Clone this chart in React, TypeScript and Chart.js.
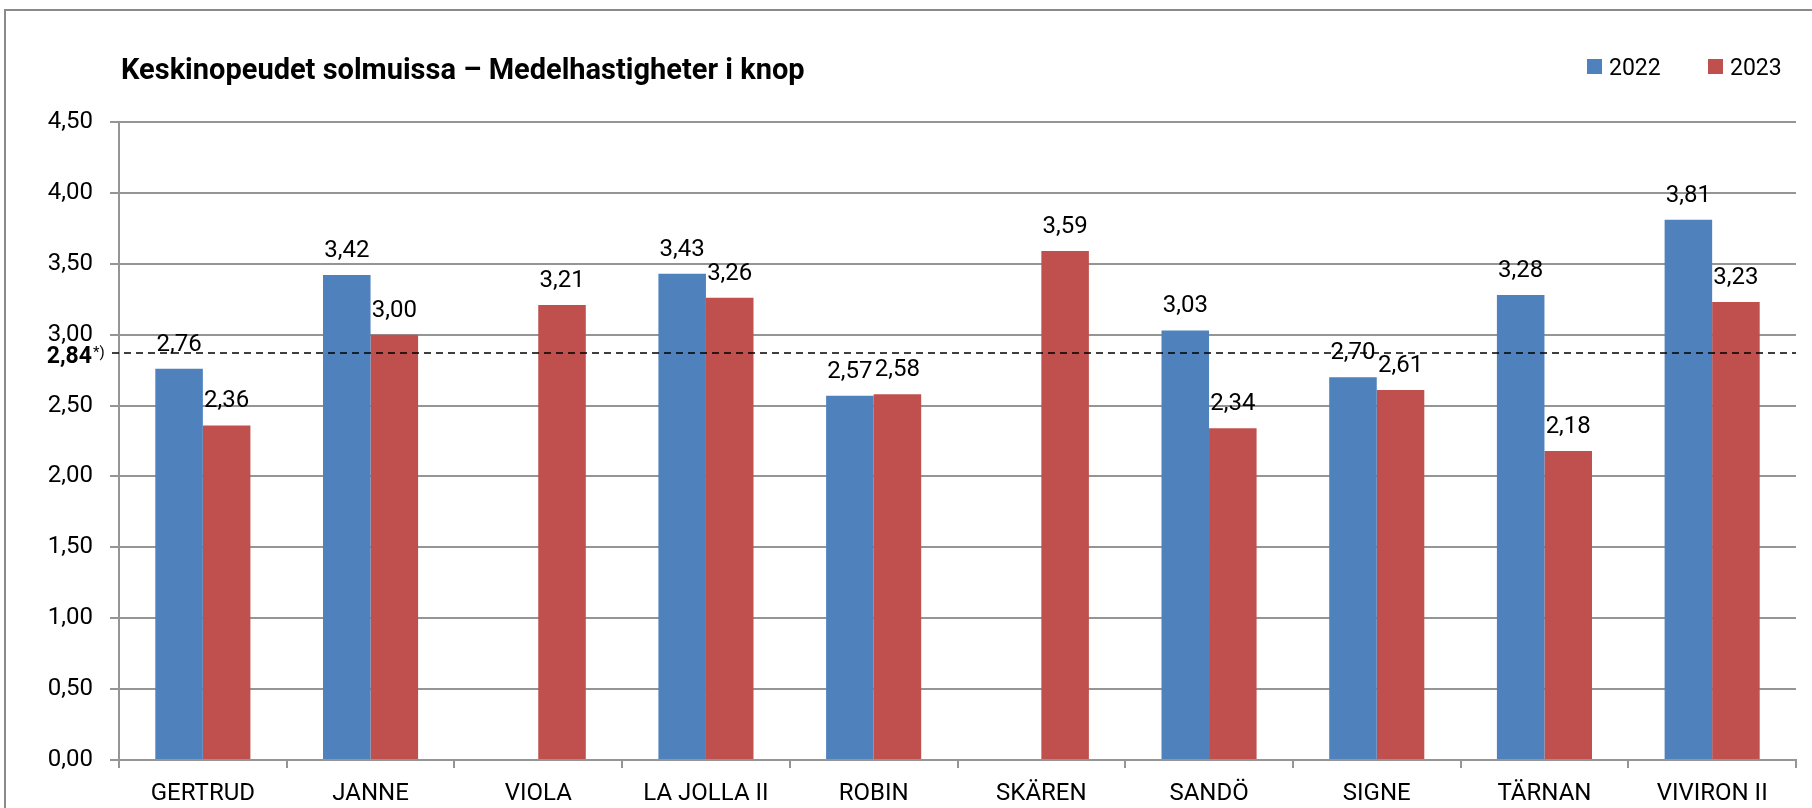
import { useEffect, useRef } from "react";
import { Chart, registerables } from "chart.js";

Chart.register(...registerables);

const categories = ["GERTRUD", "JANNE", "VIOLA", "LA JOLLA II", "ROBIN", "SKÄREN", "SANDÖ", "SIGNE", "TÄRNAN", "VIVIRON II"];
const values2022: (number | null)[] = [2.76, 3.42, null, 3.43, 2.57, null, 3.03, 2.7, 3.28, 3.81];
const values2023: (number | null)[] = [2.36, 3.0, 3.21, 3.26, 2.58, 3.59, 2.34, 2.61, 2.18, 3.23];
const seriesLabels = ["2022", "2023"];
const seriesColors = ["#4F81BD", "#C0504D"];
const titleText = "Keskinopeudet solmuissa – Medelhastigheter i knop";
const refLineValue = 2.87;
const refLineLabel = "2,84";
const refLineNote = "*)";
const yMin = 0;
const yMax = 4.5;
const yStep = 0.5;

const FONT = "Roboto, 'Liberation Sans', sans-serif";
const GRID = "#959595";

const fmt = (v: number) => v.toFixed(2).replace(".", ",");

const decorPlugin = {
  id: "decor",
  beforeDraw(chart: any) {
    const ctx = chart.ctx;
    ctx.save();
    ctx.fillStyle = "#ffffff";
    ctx.fillRect(0, 0, chart.width, chart.height);
    ctx.strokeStyle = "#8a8a8a";
    ctx.lineWidth = 2;
    ctx.beginPath();
    ctx.moveTo(5, chart.height + 5);
    ctx.lineTo(5, 10);
    ctx.lineTo(chart.width + 5, 10);
    ctx.stroke();
    ctx.restore();
  },
  afterDatasetsDraw(chart: any) {
    const ctx = chart.ctx;
    const area = chart.chartArea;
    const y = chart.scales.y.getPixelForValue(refLineValue);
    ctx.save();
    // reference dashed line
    ctx.strokeStyle = "#000000";
    ctx.lineWidth = 1.5;
    ctx.setLineDash([7, 5]);
    ctx.beginPath();
    ctx.moveTo(area.left - 7, y);
    ctx.lineTo(area.right, y);
    ctx.stroke();
    ctx.setLineDash([]);
    // ref label
    ctx.fillStyle = "#000000";
    ctx.textBaseline = "alphabetic";
    ctx.textAlign = "right";
    ctx.font = `bold 23px ${FONT}`;
    ctx.fillText(refLineLabel, 92, y + 10);
    ctx.textAlign = "left";
    ctx.font = `15px ${FONT}`;
    ctx.fillText(refLineNote, 93, y + 4);
    // data labels
    ctx.font = `24px ${FONT}`;
    ctx.textAlign = "center";
    chart.data.datasets.forEach((ds: any, di: number) => {
      const meta = chart.getDatasetMeta(di);
      meta.data.forEach((el: any, i: number) => {
        const v = ds.data[i];
        if (v === null || v === undefined) return;
        ctx.fillText(fmt(v), el.x, el.y - 18);
      });
    });
    // title
    ctx.textAlign = "left";
    ctx.font = `bold 29px ${FONT}`;
    ctx.fillText(titleText, 121, 79);
    // legend
    const legendX = [1587, 1708];
    ctx.font = `23px ${FONT}`;
    seriesLabels.forEach((lab, i) => {
      ctx.fillStyle = seriesColors[i];
      ctx.fillRect(legendX[i], 59, 15, 15);
      ctx.fillStyle = "#000000";
      ctx.fillText(lab, legendX[i] + 22, 75);
    });
    ctx.restore();
  },
};

export default function App() {
  const ref = useRef<HTMLCanvasElement | null>(null);
  useEffect(() => {
    if (!ref.current) return;
    const chart = new Chart(ref.current, {
      type: "bar",
      data: {
        labels: categories,
        datasets: [
          { label: seriesLabels[0], data: values2022, backgroundColor: seriesColors[0] },
          { label: seriesLabels[1], data: values2023, backgroundColor: seriesColors[1] },
        ],
      },
      options: {
        responsive: false,
        animation: false,
        devicePixelRatio: 1,
        datasets: { bar: { categoryPercentage: 0.567, barPercentage: 1 } },
        layout: { padding: { top: 122, left: 0, right: 16, bottom: 0 } },
        plugins: { legend: { display: false }, title: { display: false }, tooltip: { enabled: false } },
        scales: {
          x: {
            afterFit: (s: any) => {
              s.height = 48;
            },
            grid: { drawOnChartArea: false, drawTicks: true, tickLength: 8, color: GRID, lineWidth: 2, offset: true },
            border: { display: true, color: GRID, width: 2 },
            ticks: { color: "#000", font: { family: FONT, size: 24 }, padding: 12, maxRotation: 0, autoSkip: false },
          },
          y: {
            min: yMin,
            max: yMax,
            afterFit: (s: any) => {
              s.width = 119;
            },
            grid: { color: GRID, lineWidth: 2, drawTicks: true, tickLength: 9 },
            border: { display: true, color: GRID, width: 2 },
            ticks: {
              stepSize: yStep,
              color: "#000",
              font: { family: FONT, size: 24 },
              padding: 17,
              callback: (v: any) => fmt(Number(v)),
            },
          },
        },
      },
      plugins: [decorPlugin],
    });
    return () => chart.destroy();
  }, []);
  return (
    <canvas
      ref={ref}
      width={1812}
      height={808}
      style={{ position: "fixed", left: 0, top: 0, width: 1812, height: 808 }}
    />
  );
}
